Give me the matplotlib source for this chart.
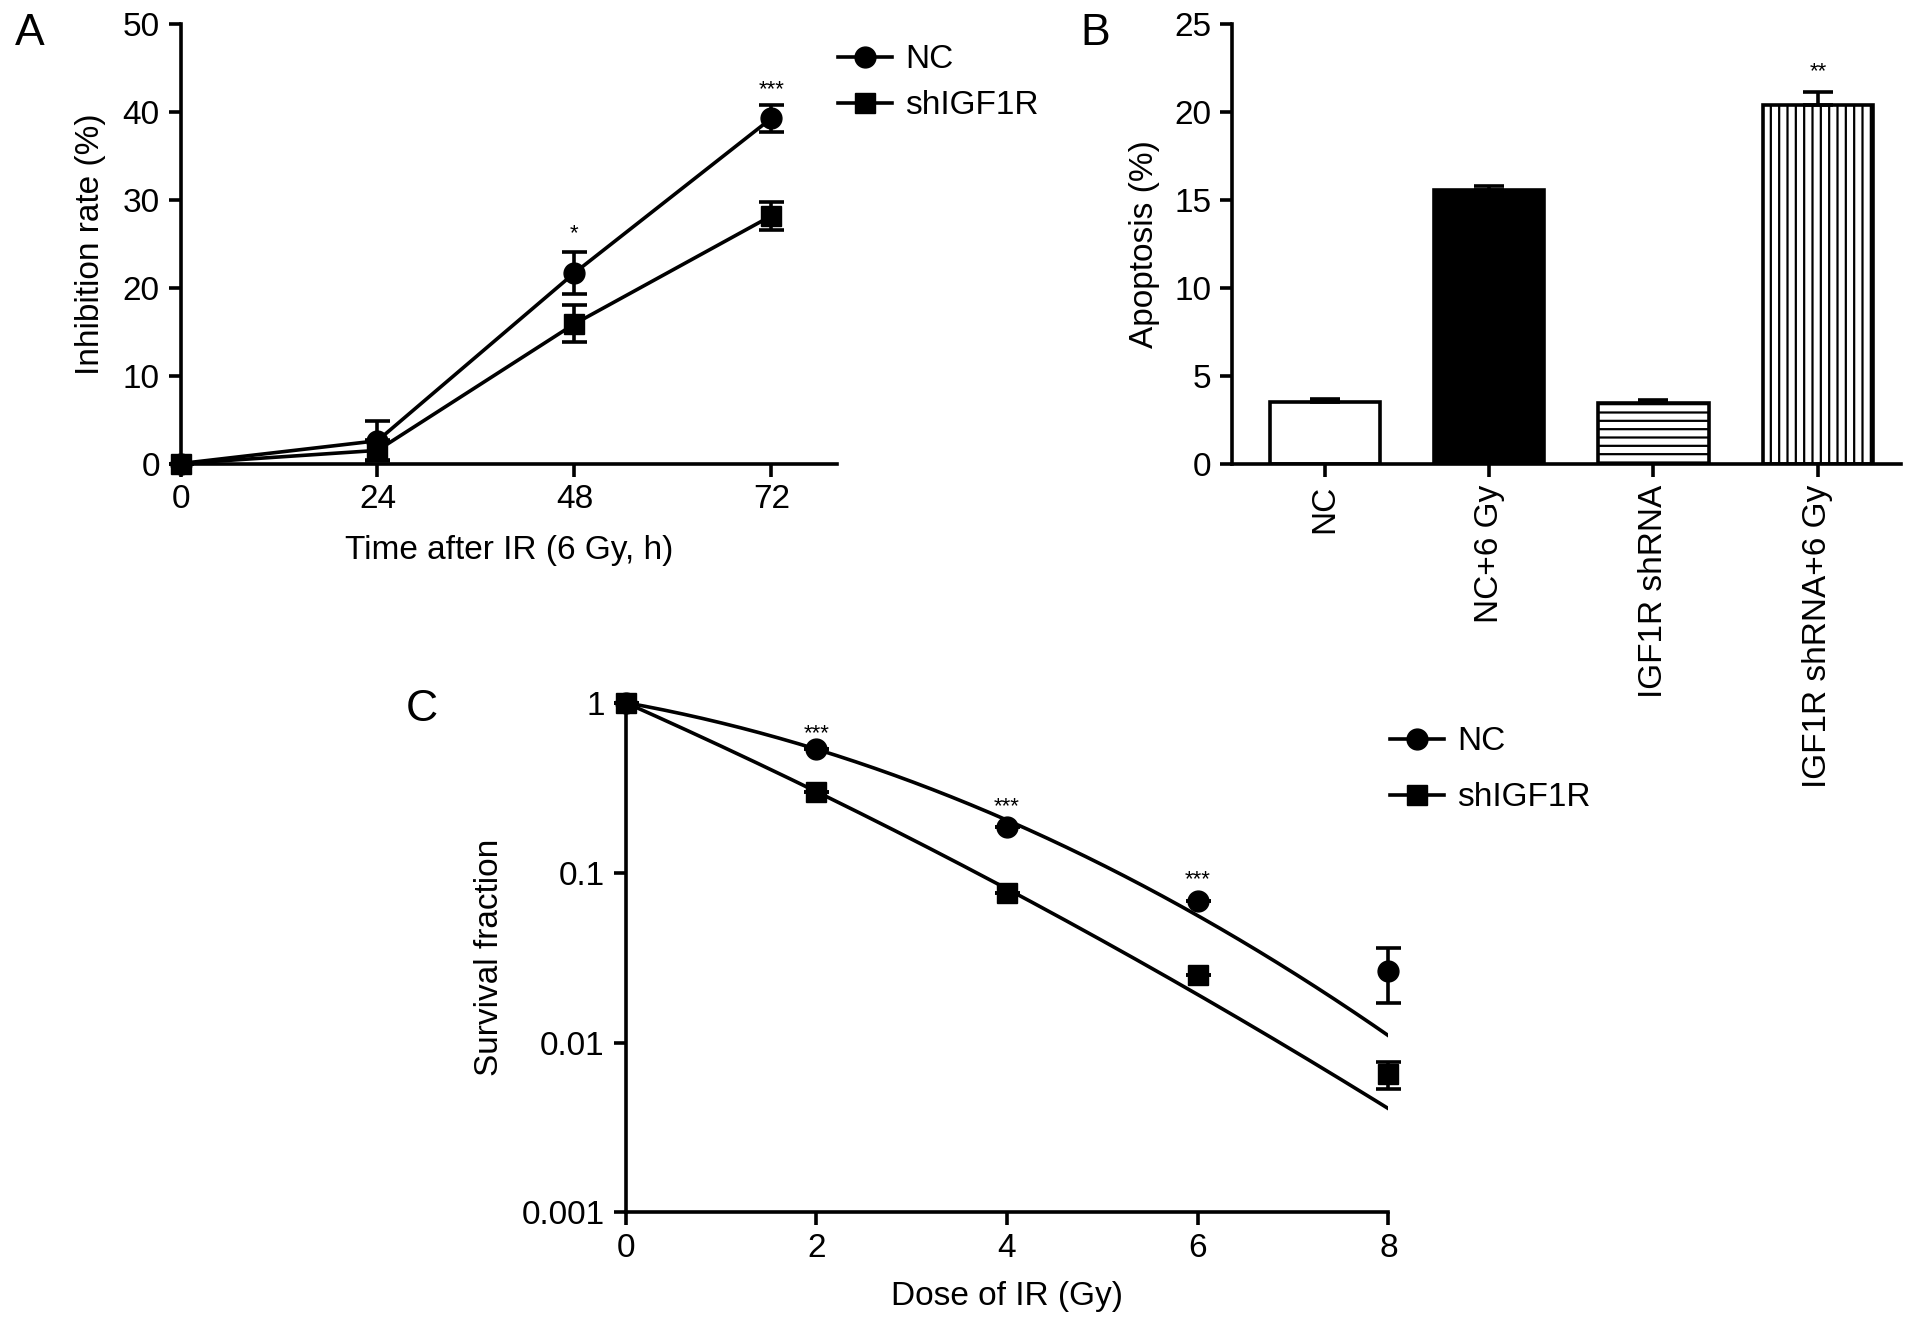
import numpy as np
import matplotlib
matplotlib.use("Agg")
import matplotlib.pyplot as plt
from matplotlib.lines import Line2D

plt.rcParams['font.family'] = ['Liberation Sans', 'DejaVu Sans']
plt.rcParams['hatch.linewidth'] = 1.6

# ---------------- Data ----------------
# Panel A
time_h = [0, 24, 48, 72]
inhib_nc = [0.0, 2.6, 21.7, 39.3]
inhib_nc_err = [0.0, 2.2, 2.4, 1.5]
inhib_sh = [0.0, 1.5, 15.9, 28.2]
inhib_sh_err = [0.0, 1.2, 2.1, 1.6]
stars_a_x = [48, 72]
stars_a_y = [26.2, 42.6]
stars_a_txt = ["*", "***"]

# Panel B
groups = ["NC", "NC+6 Gy", "IGF1R shRNA", "IGF1R shRNA+6 Gy"]
apopt = [3.5, 15.55, 3.42, 20.4]
apopt_err = [0.18, 0.25, 0.2, 0.75]
stars_b_y = 22.3

# Panel C
dose = [0, 2, 4, 6, 8]
sf_nc = [1.0, 0.533, 0.185, 0.068, 0.0265]
sf_nc_err = [0.0, 0.0, 0.0, 0.0, 0.0095]
sf_sh = [1.0, 0.30, 0.0755, 0.0249, 0.0065]
sf_sh_err = [0.0, 0.0, 0.0, 0.0, 0.0012]
# fitted linear-quadratic model parameters (alpha, beta)
lq_nc = (0.232, 0.0415)
lq_sh = (0.574, 0.0142)
stars_c_x = [2, 4, 6]
stars_c_y = [0.66, 0.245, 0.091]

# ---------------- Figure ----------------
fig = plt.figure(figsize=(19.13, 13.26), dpi=100)

LW = 2.6
TS = 24


def style_axes(ax):
    for s in ['top', 'right']:
        ax.spines[s].set_visible(False)
    for s in ['left', 'bottom']:
        ax.spines[s].set_linewidth(LW)
    ax.tick_params(direction='out', length=9, width=LW, labelsize=TS, colors='black', pad=6)


def legend_handles():
    return [Line2D([], [], color='black', lw=LW, marker='o', ms=15),
            Line2D([], [], color='black', lw=LW, marker='s', ms=14)]


# Panel A
axA = fig.add_axes([0.0944, 0.6504, 0.4375 - 0.0944, 0.9816 - 0.6504])
style_axes(axA)
axA.errorbar(time_h, inhib_nc, yerr=inhib_nc_err, color='black', lw=LW, marker='o', ms=15,
             capsize=9, capthick=LW, elinewidth=LW, clip_on=False, zorder=3)
axA.errorbar(time_h, inhib_sh, yerr=inhib_sh_err, color='black', lw=LW, marker='s', ms=14,
             capsize=9, capthick=LW, elinewidth=LW, clip_on=False, zorder=3)
axA.set_xlim(0, 80)
axA.set_ylim(0, 50)
axA.set_xticks(time_h)
axA.set_yticks([0, 10, 20, 30, 40, 50])
axA.set_xlabel('Time after IR (6 Gy, h)', fontsize=TS, labelpad=14)
axA.set_ylabel('Inhibition rate (%)', fontsize=TS, labelpad=12)
for x, y, t in zip(stars_a_x, stars_a_y, stars_a_txt):
    axA.text(x, y, t, ha='center', va='center', fontsize=16)
axA.legend(legend_handles(), ['NC', 'shIGF1R'], loc='upper left', bbox_to_anchor=(0.982, 0.985),
           frameon=False, prop={'size': TS}, handlelength=1.6, handletextpad=0.4,
           labelspacing=0.45, borderaxespad=0)
fig.text(0.008, 0.975, 'A', fontsize=32, va='center', ha='left')

# Panel B
axB = fig.add_axes([0.644, 0.6504, 0.9936 - 0.644, 0.9816 - 0.6504])
style_axes(axB)
xs = np.arange(len(groups))
faces = ['white', 'black', 'white', 'white']
hatches = [None, None, '--', '||']
for i in range(len(groups)):
    axB.bar(xs[i], apopt[i], width=0.67, color=faces[i], edgecolor='black', linewidth=LW,
            hatch=hatches[i], zorder=2)
    axB.errorbar(xs[i], apopt[i], yerr=[[0], [apopt_err[i]]], color='black', capsize=11,
                 capthick=LW, elinewidth=LW, fmt='none', zorder=3)
axB.set_xlim(-0.564, 3.504)
axB.set_ylim(0, 25)
axB.set_yticks([0, 5, 10, 15, 20, 25])
axB.set_xticks(xs)
axB.set_xticklabels(groups, rotation=90)
axB.set_ylabel('Apoptosis (%)', fontsize=TS, labelpad=10)
axB.text(3, stars_b_y, '**', ha='center', va='center', fontsize=16)
fig.text(0.565, 0.975, 'B', fontsize=32, va='center', ha='left')

# Panel C
axC = fig.add_axes([0.327, 0.0856, 0.7258 - 0.327, 0.4701 - 0.0856])
style_axes(axC)
axC.set_yscale('log')
dd = np.linspace(0, 8, 200)
fit_nc = np.exp(-(lq_nc[0] * dd + lq_nc[1] * dd ** 2))
fit_sh = np.exp(-(lq_sh[0] * dd + lq_sh[1] * dd ** 2))
axC.plot(dd, fit_nc, color='black', lw=LW, zorder=2)
axC.plot(dd, fit_sh, color='black', lw=LW, zorder=2)
axC.errorbar(dose, sf_nc, yerr=sf_nc_err, fmt='o', color='black', ms=15, capsize=9,
             capthick=LW, elinewidth=LW, clip_on=False, zorder=3)
axC.errorbar(dose, sf_sh, yerr=sf_sh_err, fmt='s', color='black', ms=14, capsize=9,
             capthick=LW, elinewidth=LW, clip_on=False, zorder=3)
axC.set_xlim(0, 8)
axC.set_ylim(0.001, 1)
axC.set_xticks(dose)
axC.set_yticks([0.001, 0.01, 0.1, 1])
axC.set_yticklabels(['0.001', '0.01', '0.1', '1'])
axC.yaxis.set_minor_locator(matplotlib.ticker.NullLocator())
axC.set_xlabel('Dose of IR (Gy)', fontsize=TS, labelpad=12)
axC.set_ylabel('Survival fraction', fontsize=TS, labelpad=12)
for x, y in zip(stars_c_x, stars_c_y):
    axC.text(x, y, '***', ha='center', va='center', fontsize=16)
axC.legend(legend_handles(), ['NC', 'shIGF1R'], loc='upper left', bbox_to_anchor=(0.985, 0.98),
           frameon=False, prop={'size': TS}, handlelength=1.6, handletextpad=0.4,
           labelspacing=0.75, borderaxespad=0)
fig.text(0.212, 0.465, 'C', fontsize=32, va='center', ha='left')

fig.savefig('out.png', dpi=100)
